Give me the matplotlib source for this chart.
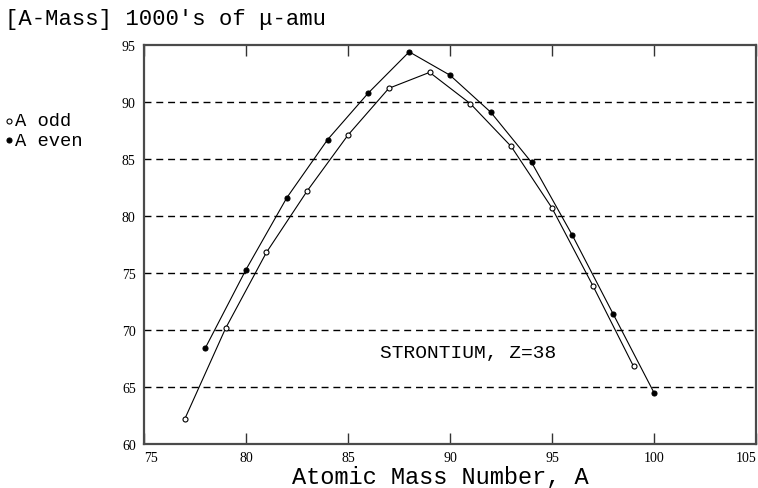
import matplotlib
matplotlib.use("Agg")
import matplotlib.pyplot as plt
from matplotlib.lines import Line2D

# Data
a_odd = [77, 79, 81, 83, 85, 87, 89, 91, 93, 95, 97, 99]
m_odd = [62.2, 70.15, 76.8, 82.2, 87.1, 91.2, 92.6, 89.85, 86.1, 80.7, 73.9, 66.8]
a_even = [78, 80, 82, 84, 86, 88, 90, 92, 94, 96, 98, 100]
m_even = [68.4, 75.3, 81.6, 86.7, 90.8, 94.4, 92.35, 89.1, 84.7, 78.3, 71.4, 64.5]
x_ticks = [75, 80, 85, 90, 95, 100, 105]
y_ticks = [60, 65, 70, 75, 80, 85, 90, 95]
grid_levels = [65, 70, 75, 80, 85, 90]

mono = "Liberation Mono"
serif = "Liberation Serif"

fig = plt.figure(figsize=(7.58, 4.89), dpi=100)
ax = fig.add_axes([144/758, 1-445/489, (756-144)/758, (445-46)/489])
ax.set_xlim(75, 105)
ax.set_ylim(60, 95)

for g in grid_levels:
    ax.axhline(g, color="black", lw=1.0, ls=(0, (5, 3.5)), zorder=1)

ax.plot(a_odd, m_odd, color="black", lw=0.8, marker="o", ms=3.6,
        mfc="white", mec="black", mew=0.8, zorder=3)
ax.plot(a_even, m_even, color="black", lw=0.8, marker="o", ms=3.6,
        mfc="black", mec="black", mew=0.8, zorder=3)

for s in ax.spines.values():
    s.set_color("#4a4a4a")
    s.set_linewidth(1.6)

ax.set_xticks(x_ticks)
ax.set_yticks(y_ticks)
xl = ax.set_xticklabels([str(v) for v in x_ticks], fontfamily=serif, fontsize=10)
ax.set_yticklabels([str(v) for v in y_ticks], fontfamily=serif, fontsize=10)
xl[0].set_ha("left")
xl[-1].set_ha("right")
ax.tick_params(axis="x", direction="in", length=8, width=1, top=True,
               color="#333333", pad=5)
ax.tick_params(axis="y", direction="in", length=0, pad=6)

ax.text(90.9, 68.0, "STRONTIUM, Z=38", fontfamily=mono, fontsize=14,
        ha="center", va="center")

fig.text(440/758, 1-478/489, "Atomic Mass Number, A", fontfamily=mono,
         fontsize=17, ha="center", va="center")
fig.text(5/758, 1-20/489, "[A-Mass] 1000's of \u03bc-amu", fontfamily=mono,
         fontsize=16, ha="left", va="center")

# legend at left
for yy, fc, label in [(122, "white", "A odd"), (141, "black", "A even")]:
    fig.add_artist(Line2D([9/758], [1-yy/489], marker="o", ms=3.6,
                          mfc=fc, mec="black", mew=0.8, ls="none",
                          transform=fig.transFigure))
    fig.text(15/758, 1-yy/489, label, fontfamily=mono, fontsize=13.5,
             ha="left", va="center")

fig.savefig("out.png", dpi=100)
